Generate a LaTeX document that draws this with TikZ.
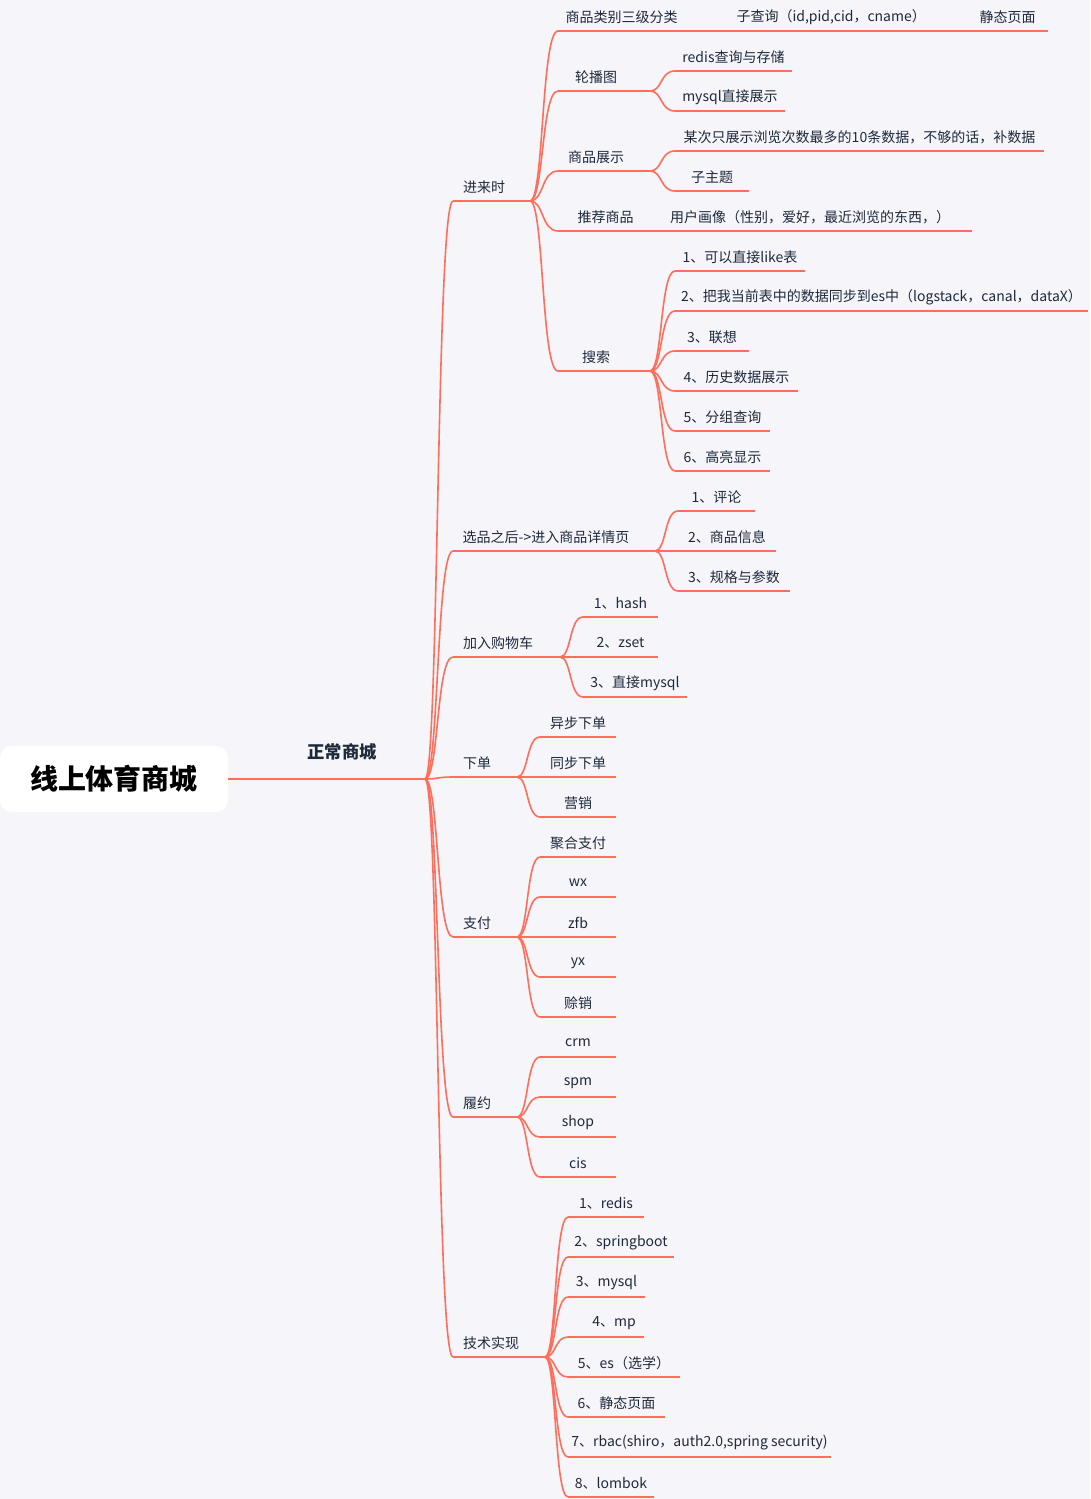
\documentclass[tikz,border=0pt]{standalone}
\usepackage{fontspec}
\setmainfont{Noto Sans CJK SC}
\usetikzlibrary{calc}
\definecolor{bg}{HTML}{F5F5FA}
\definecolor{ln}{HTML}{FF6E5A}
\definecolor{tx}{HTML}{1E2A3A}
\tikzset{
  lbl/.style={text=tx,font=\fontsize{10.5pt}{12pt}\selectfont,inner sep=0pt},
  wire/.style={draw=ln,line width=1.2pt},
}
% \nd{name}{textx}{y}{left}{right}{text}
\newcommand{\nd}[6]{%
  \coordinate (#1-l) at (#4,#3);
  \coordinate (#1-r) at (#5,#3);
  \draw[wire] (#1-l) -- (#1-r);
  \node[lbl] (#1) at ({#2},{#3-14}) {#6};
}
\newcommand{\lf}[5]{\nd{#1}{(#2+#3)/2}{#4}{#2}{#3}{#5}}
\newcommand{\conn}[2]{%
  \draw[wire] let \p1=(#1), \p2=(#2) in (\p1) .. controls ({\x1+0.5*(\x2-\x1)},\y1) and ({\x1+0.4*(\x2-\x1)},\y2) .. (\p2);
}
\begin{document}
\begin{tikzpicture}[x=0.75pt,y=-0.75pt]
\fill[bg] (0,0) rectangle (1090,1499);
\useasboundingbox (0,0) rectangle (1090,1499);
% root
\node[fill=white,rounded corners=9pt,minimum width=171pt,minimum height=49.5pt,inner sep=0pt,text=black,font=\fontsize{21pt}{24pt}\selectfont\bfseries] (root) at (114,779) {线上体育商城};
\coordinate (hub) at (425,779);
\draw[wire] (root.east) -- (hub);
\node[text=tx,font=\fontsize{13pt}{15pt}\selectfont\bfseries] (zc) at (342,752) {正常商城};
% level 2
\nd{a}{484}{201}{453}{530}{进来时}
\nd{b}{546}{551}{453}{655}{选品之后->进入商品详情页}
\nd{c}{498}{657}{453}{560}{加入购物车}
\nd{d}{477}{777}{453}{517}{下单}
\nd{e}{477}{937}{453}{517}{支付}
\nd{f}{477}{1117}{453}{517}{履约}
\nd{g}{491}{1357}{453}{545}{技术实现}
\foreach \k in {a,b,c,d,e,f,g} {\conn{hub}{\k-l}}
% 进来时
\lf{a1}{558}{685}{31}{商品类别三级分类}
\lf{a11}{705}{928}{31}{\hspace{22pt}子查询（id,pid,cid，cname）}
\lf{a111}{930}{1048}{31}{\hspace{28pt}静态页面}
\draw[wire] (a1-r) -- (a11-l);
\draw[wire] (a11-r) -- (a111-l);
\nd{a2}{596}{91}{558}{650}{轮播图}
\nd{a3}{596}{171}{558}{650}{商品展示}
\lf{a4}{558}{648}{231}{\hspace{4pt}推荐商品}
\lf{a41}{648}{972}{231}{用户画像（性别，爱好，最近浏览的东西，）}
\draw[wire] (a4-r) -- (a41-l);
\nd{a5}{596}{371}{558}{650}{搜索}
\foreach \k in {a1,a2,a3,a4,a5} {\conn{a-r}{\k-l}}
\lf{a21}{675}{792}{71}{redis查询与存储}
\lf{a22}{675}{785}{111}{mysql直接展示}
\conn{a2-r}{a21-l}\conn{a2-r}{a22-l}
\lf{a31}{675}{1044}{151}{某次只展示浏览次数最多的10条数据，不够的话，补数据}
\lf{a32}{675}{749}{191}{子主题}
\conn{a3-r}{a31-l}\conn{a3-r}{a32-l}
\lf{s1}{675}{805}{271}{1、可以直接like表}
\lf{s2}{675}{1088}{311}{2、把我当前表中的数据同步到es中（logstack，canal，dataX）}
\lf{s3}{675}{749}{351}{3、联想}
\lf{s4}{675}{798}{391}{4、历史数据展示}
\lf{s5}{675}{770}{431}{5、分组查询}
\lf{s6}{675}{770}{471}{6、高亮显示}
\foreach \k in {s1,s2,s3,s4,s5,s6} {\conn{a5-r}{\k-l}}
% 选品
\lf{b1}{678}{755}{511}{1、评论}
\lf{b2}{678}{776}{551}{2、商品信息}
\lf{b3}{678}{790}{591}{3、规格与参数}
\foreach \k in {b1,b2,b3} {\conn{b-r}{\k-l}}
% 购物车
\lf{c1}{583}{658}{617}{1、hash}
\lf{c2}{583}{658}{657}{2、zset}
\lf{c3}{583}{687}{697}{3、直接mysql}
\foreach \k in {c1,c2,c3} {\conn{c-r}{\k-l}}
% 下单
\lf{d1}{540}{616}{737}{异步下单}
\lf{d2}{540}{616}{777}{同步下单}
\lf{d3}{540}{616}{817}{营销}
\foreach \k in {d1,d2,d3} {\conn{d-r}{\k-l}}
% 支付
\lf{e1}{540}{616}{857}{聚合支付}
\lf{e2}{540}{616}{897}{wx}
\lf{e3}{540}{616}{937}{zfb}
\lf{e4}{540}{616}{977}{yx}
\lf{e5}{540}{616}{1017}{赊销}
\foreach \k in {e1,e2,e3,e4,e5} {\conn{e-r}{\k-l}}
% 履约
\lf{f1}{540}{616}{1057}{crm}
\lf{f2}{540}{616}{1097}{spm}
\lf{f3}{540}{616}{1137}{shop}
\lf{f4}{540}{616}{1177}{cis}
\foreach \k in {f1,f2,f3,f4} {\conn{f-r}{\k-l}}
% 技术实现
\lf{g1}{568}{644}{1217}{1、redis}
\lf{g2}{568}{674}{1257}{2、springboot}
\lf{g3}{568}{645}{1297}{3、mysql}
\lf{g4}{568}{644}{1337}{\hspace{12pt}4、mp}
\lf{g5}{568}{680}{1377}{5、es（选学）}
\lf{g6}{568}{665}{1417}{6、静态页面}
\lf{g7}{568}{831}{1457}{7、rbac(shiro，auth2.0,spring security)}
\lf{g8}{568}{654}{1497}{8、lombok}
\foreach \k in {g1,g2,g3,g4,g5,g6,g7,g8} {\conn{g-r}{\k-l}}
\end{tikzpicture}
\end{document}
